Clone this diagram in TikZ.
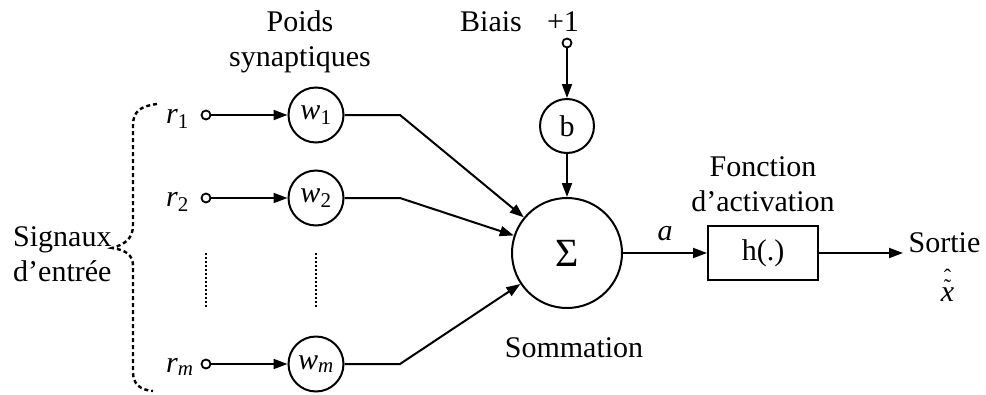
\documentclass[tikz,border=0pt]{standalone}
\usepackage{fontspec}
\setmainfont{Liberation Serif}
\usetikzlibrary{arrows.meta}
\newcommand\fsz{\fontsize{30}{35}\selectfont}
\newcommand\accfs{\fontsize{22}{22}\selectfont}
\newcommand\xhatt{\leavevmode\ooalign{\textit{x}\cr\hidewidth{\accfs\raisebox{7pt}{˜}}\hidewidth\cr\hidewidth{\accfs\raisebox{17pt}{ˆ}}\hidewidth\cr}}
\begin{document}
\begin{tikzpicture}[x=1pt,y=-1pt,
  every node/.style={inner sep=0pt, font=\fsz},
  ln/.style={line width=2pt},
  arr/.style={ln,-{Triangle[length=14pt,width=10pt]}},
  neur/.style={circle,draw,line width=2pt,minimum size=55pt,inner sep=0pt},
  term/.style={circle,draw,line width=1.8pt,minimum size=9pt,inner sep=0pt},
  dotline/.style={line width=1.5pt,dash pattern=on 2pt off 2pt},
  bracestyle/.style={line width=2.4pt,dash pattern=on 4pt off 3pt}]
\useasboundingbox (0,0) rectangle (986,394);
% input terminals
\node[term] (r1c) at (206,115) {};
\node[term] (r2c) at (206,198) {};
\node[term] (rmc) at (206,364) {};
\node[anchor=base west] (r1) at (166,123) {\textit{r}\textsubscript{1}};
\node[anchor=base west] (r2) at (166,206) {\textit{r}\textsubscript{2}};
\node[anchor=base west] (rm) at (166,372) {\textit{r}\textsubscript{\textit{m}}};
% weights
\node[neur] (w1) at (316,115) {\textit{w}\textsubscript{1}};
\node[neur] (w2) at (316,198) {\textit{w}\textsubscript{2}};
\node[neur] (wm) at (316,364) {\textit{w}\textsubscript{\textit{m}}};
% summation
\node[circle,draw,line width=2pt,minimum size=110pt] (sig) at (567,253) {\fontsize{40}{40}\selectfont Σ};
\node[neur,minimum size=54pt] (b) at (567,126) {b};
\node[term] (one) at (567,43) {};
\node[draw,line width=2pt,minimum width=110pt,minimum height=54pt] (h) at (763,253) {h(.)};
\coordinate (out) at (903,253);
% connectors
\draw[arr] (r1c) -- (w1);
\draw[arr] (r2c) -- (w2);
\draw[arr] (rmc) -- (wm);
\draw[arr] (w1.east) -- (400,115) -- (sig);
\draw[arr] (w2.east) -- (400,198) -- (sig);
\draw[arr] (wm.east) -- (400,364) -- (sig);
\draw[arr] (one) -- (b);
\draw[arr] (b) -- (sig);
\draw[arr] (sig) -- (h);
\draw[arr] (h.east) -- (out);
% dotted continuation lines
\coordinate (d1a) at (206,253); \coordinate (d1b) at (206,307);
\coordinate (d2a) at (316,253); \coordinate (d2b) at (316,307);
\draw[dotline] (d1a) -- (d1b);
\draw[dotline] (d2a) -- (d2b);
% brace
\draw[bracestyle] (157,104) .. controls (140,106) and (133,112) .. (133,125) -- (133,225)
  .. controls (133,238) and (126,244) .. (112,248)
  .. controls (126,250) and (133,255) .. (133,266) -- (133,372)
  .. controls (133,384) and (140,390) .. (153,391);
% labels
\node[anchor=north west,align=left] (sig-lbl) at (13,226.5) {Signaux\\d’entrée};
\node[anchor=north,align=center] (poids) at (300,10.5) {Poids\\synaptiques};
\node[anchor=base] (biais) at (491,31) {Biais};
\node[anchor=base] (plus) at (563,31) {+1};
\node[anchor=base] (somm) at (574,357) {Sommation};
\node[anchor=base] (alab) at (665,240) {\textit{a}};
\node[anchor=north,align=center] (fonc) at (763,156.5) {Fonction\\d’activation};
\node[anchor=base] (sortie) at (944.5,252) {Sortie};
\node[anchor=base] (xhat) at (947.5,301) {\xhatt};
\end{tikzpicture}
\end{document}
